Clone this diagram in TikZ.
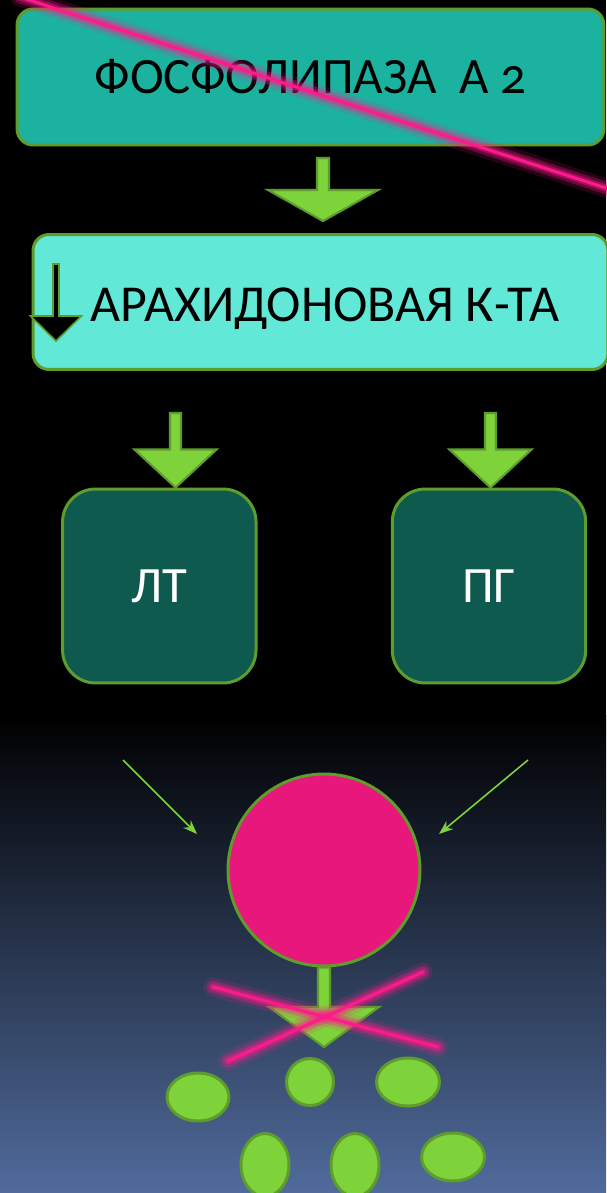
\documentclass[tikz,border=0pt]{standalone}
\usepackage{fontspec}
\setmainfont{Carlito}[Numbers=OldStyle]
\usepackage{tikz}
\usetikzlibrary{arrows.meta,calc}
\definecolor{tuerkis}{HTML}{1BB3A0}
\definecolor{hellTuerkis}{HTML}{62E8D7}
\definecolor{dunkelgruen}{HTML}{0E5A4F}
\definecolor{rand}{HTML}{5E9C2C}
\definecolor{pfeilgruen}{HTML}{7ED33B}
\definecolor{kreisrot}{HTML}{E8177B}
\definecolor{strichpink}{HTML}{FF1A8C}
\definecolor{unten}{HTML}{506B9C}

\begin{document}
\begin{tikzpicture}[x=0.02cm,y=-0.02cm,
  block/.style={draw=rand,line width=1.7pt,rounded corners=0.32cm,inner sep=0pt},
  kasten/.style={block,rounded corners=0.66cm,fill=dunkelgruen,minimum width=3.87cm,minimum height=3.88cm,text=white,font=\fontsize{29}{32}\selectfont},
  bpfeil/.style={draw=rand,line width=1.2pt,fill=pfeilgruen,line join=miter},
  duenn/.style={draw=pfeilgruen,line width=0.9pt,-{Stealth[length=8pt,width=6pt,inset=2.5pt]}},
  streich/.style={draw=strichpink,line width=1.7pt,line cap=round,
    preaction={draw=strichpink,line width=11pt,opacity=0.15,line cap=round},
    preaction={draw=strichpink,line width=7pt,opacity=0.3,line cap=round},
    preaction={draw=strichpink,line width=4pt,opacity=0.4,line cap=round}},
  tropfen/.style={draw=rand,line width=1.7pt,fill=pfeilgruen}]

\useasboundingbox (0,0) rectangle (606,1193);
%Hintergrund
\fill[black] (0,0) rectangle (606,715);
\shade[top color=black,bottom color=unten] (0,715) rectangle (606,1193);

%Obere Bloecke
\node[block,fill=tuerkis,minimum width=11.74cm,minimum height=2.72cm,font=\fontsize{29}{34}\selectfont] (pla) at (310.5,77) {ФОСФОЛИПАЗА\ \ А 2};
\node[block,fill=hellTuerkis,minimum width=11.5cm,minimum height=2.7cm] (ak) at (320.5,302) {};
\node[font=\fontsize{29.5}{34}\selectfont,inner sep=0pt] (aktext) at (325,309) {АРАХИДОНОВАЯ К-ТА};

%Untere Kaesten
\node[kasten] (lt) at (159.3,586) {ЛТ};
\node[kasten] (pg) at (489,586) {ПГ};
\node[circle,draw=rand,line width=1.7pt,fill=kreisrot,minimum size=3.84cm,inner sep=0pt] (cox) at (324,870) {};

%Blockpfeile
\coordinate (p1a) at (323,158); \coordinate (p1b) at (323,221);
\coordinate (p2a) at (175.5,413); \coordinate (p2b) at (lt.north -| p2a);
\coordinate (p3a) at (490.5,413); \coordinate (p3b) at (pg.north -| p3a);
\coordinate (p4b) at (324,1047);
\foreach \s/\e/\w/\h/\l in {p1a/p1b/6/55/31, p2a/p2b/5.5/41/38, p3a/p3b/5.5/41/38, cox.south/p4b/6/55/40}
  \draw[bpfeil] (\e) -- ++(-\h,-\l) -- ++(\h-\w,0) -- ($(\s)+(-\w,0)$) -- ($(\s)+(\w,0)$) -- ($(\e)+(\w,-\l)$) -- ++(\h-\w,0) -- cycle;
%kleiner Pfeil
\coordinate (p5a) at (56,264); \coordinate (p5b) at (56,341);
\draw[bpfeil,fill=black,line width=0.9pt] (p5b) -- ++(-25.5,-25) -- ++(22.5,0) -- ($(p5a)+(-3,0)$) -- ($(p5a)+(3,0)$) -- ($(p5b)+(3,-25)$) -- ++(22.5,0) -- cycle;

%duenne Pfeile
\coordinate (l1) at (123,760); \coordinate (l2) at (197,834);
\coordinate (r1) at (528,760); \coordinate (r2) at (439,834);
\draw[duenn] (l1) -- (l2);
\draw[duenn] (r1) -- (r2);

%Tropfen
\foreach \x/\y/\rx/\ry in {198/1097/31/24, 310/1082/23.5/23.5, 408/1082/31.5/24, 265/1165/24/31.5, 355/1165/24/31.5, 453/1157/31.5/24}
  \draw[tropfen] (\x,\y) ellipse [x radius=0.02cm*\rx, y radius=0.02cm*\ry];

%Streichungen
\coordinate (s1) at (20,-3); \coordinate (s2) at (612,190);
\draw[streich] (s1) -- (s2);
\coordinate (k1) at (213,987); \coordinate (k2) at (438,1047);
\coordinate (k3) at (228,1061); \coordinate (k4) at (423,972);
\draw[streich] (k1) -- (k2);
\draw[streich] (k3) -- (k4);
\end{tikzpicture}
\end{document}
